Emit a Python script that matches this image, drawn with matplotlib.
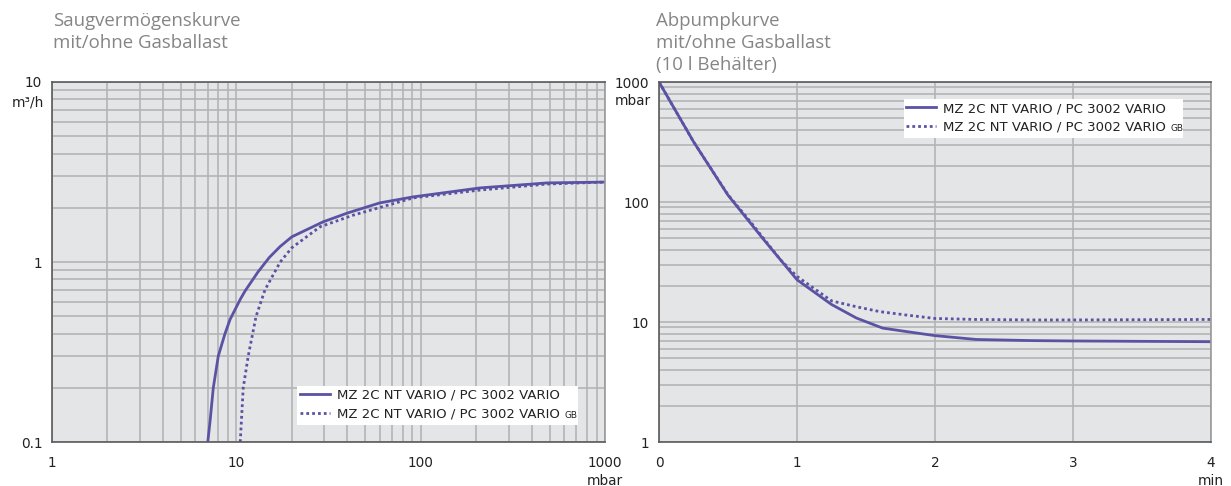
import matplotlib
matplotlib.use("Agg")
import matplotlib.pyplot as plt
from matplotlib.patches import Rectangle
from matplotlib.ticker import FixedLocator, NullFormatter, LogLocator

# Pumping speed vs. pressure (mbar -> m³/h)
speed_p_solid = [7.0, 7.2, 7.5, 7.98, 8.68, 9.25, 10.5, 11.15, 13.1, 15.1, 17.3, 20.0, 29.5, 40, 60, 91, 210, 485, 1000]
speed_q_solid = [0.1, 0.13, 0.2, 0.3, 0.40, 0.48, 0.62, 0.69, 0.88, 1.06, 1.22, 1.38, 1.67, 1.87, 2.13, 2.30, 2.58, 2.75, 2.78]
speed_p_gb = [10.5, 10.9, 11.6, 12.8, 14.3, 17.3, 20.0, 28.5, 43, 91, 210, 485, 1000]
speed_q_gb = [0.1, 0.2, 0.3, 0.5, 0.7, 1.0, 1.2, 1.57, 1.82, 2.27, 2.51, 2.71, 2.78]

# Pump-down of a 10 l vessel (min -> mbar)
pd_t_solid = [0, 0.25, 0.5, 0.75, 1.0, 1.25, 1.43, 1.62, 1.8, 2.0, 2.3, 2.7, 3.0, 3.5, 4.0]
pd_p_solid = [1000, 318, 114, 50, 22.5, 14.0, 10.8, 8.9, 8.3, 7.7, 7.15, 7.0, 6.95, 6.9, 6.85]
pd_t_gb = [0, 0.25, 0.5, 0.66, 0.88, 1.0, 1.25, 1.43, 1.6, 1.8, 2.0, 2.3, 2.7, 3.0, 3.5, 4.0]
pd_p_gb = [1000, 318, 115, 69, 33, 24, 15, 13.4, 12.2, 11.4, 10.7, 10.5, 10.4, 10.4, 10.45, 10.5]

label_main = "MZ 2C NT VARIO / PC 3002 VARIO"
label_gb_suffix = "GB"

left_xticks = [1, 10, 100, 1000]
left_xticklabels = ["1", "10", "100", "1000\nmbar"]
left_yticks = [0.1, 1, 10]
left_yticklabels = ["0.1", "1", "10"]
right_xticks = [0, 1, 2, 3, 4]
right_xticklabels = ["0", "1", "2", "3", "4\nmin"]
right_yticks = [1, 10, 100, 1000]
right_yticklabels = ["1", "10", "100", "1000"]

LINE = "#5a53a4"
BG = "#e4e5e7"
GRID = "#b3b4b6"
SPINE = "#5a5a5a"
TXT = "#222222"
TITLE = "#858585"

W, H = 1231, 486
plt.rcParams['font.family'] = ['DejaVu Sans']

fig = plt.figure(figsize=(W / 100, H / 100), dpi=100)
ax1 = fig.add_axes([52 / W, 1 - 442 / H, 553 / W, 360 / H])
ax2 = fig.add_axes([659 / W, 1 - 442 / H, 552 / W, 360 / H])


def style(ax):
    ax.set_facecolor(BG)
    for s in ax.spines.values():
        s.set_color(SPINE)
        s.set_linewidth(1.2)
    ax.spines['right'].set_color("#9a9a9a")
    ax.tick_params(which='both', length=0, labelsize=9.8, colors=TXT)
    ax.tick_params(axis='x', pad=10)
    ax.tick_params(axis='y', pad=7)
    ax.set_axisbelow(True)


# ---- left: pumping speed ----
style(ax1)
ax1.set_xscale('log')
ax1.set_yscale('log')
ax1.set_xlim(1, 1000)
ax1.set_ylim(0.1, 10)
ax1.xaxis.set_major_locator(FixedLocator(left_xticks))
ax1.set_xticklabels(left_xticklabels, va='top', linespacing=1.4)
ax1.yaxis.set_major_locator(FixedLocator(left_yticks))
ax1.set_yticklabels(left_yticklabels)
ax1.xaxis.set_minor_locator(LogLocator(base=10, subs=range(2, 10)))
ax1.yaxis.set_minor_locator(LogLocator(base=10, subs=range(2, 10)))
ax1.xaxis.set_minor_formatter(NullFormatter())
ax1.yaxis.set_minor_formatter(NullFormatter())
ax1.grid(True, which='both', color=GRID, linewidth=1.2)

ax1.plot(speed_p_solid, speed_q_solid, color=LINE, lw=2.0, label=label_main)
ax1.plot(speed_p_gb, speed_q_gb, color=LINE, lw=2.0, ls=(0, (1, 1.1)), label=label_main)
ax1.annotate("m³/h", xy=(0, 1), xycoords='axes fraction', xytext=(-8, -21),
             textcoords='offset pixels', ha='right', va='center', fontsize=9.8, color=TXT)

# ---- right: pump-down curve ----
style(ax2)
ax2.set_yscale('log')
ax2.set_xlim(0, 4)
ax2.set_ylim(1, 1000)
ax2.xaxis.set_major_locator(FixedLocator(right_xticks))
ax2.set_xticklabels(right_xticklabels, va='top', linespacing=1.4)
ax2.yaxis.set_major_locator(FixedLocator(right_yticks))
ax2.set_yticklabels(right_yticklabels)
ax2.yaxis.set_minor_locator(LogLocator(base=10, subs=range(2, 10)))
ax2.yaxis.set_minor_formatter(NullFormatter())
ax2.grid(True, which='both', axis='y', color=GRID, linewidth=1.2)
ax2.grid(True, which='major', axis='x', color=GRID, linewidth=1.2)

ax2.plot(pd_t_solid, pd_p_solid, color=LINE, lw=2.0, label=label_main)
ax2.plot(pd_t_gb, pd_p_gb, color=LINE, lw=2.0, ls=(0, (1, 1.1)), label=label_main)
ax2.annotate("mbar", xy=(0, 1), xycoords='axes fraction', xytext=(-8, -19),
             textcoords='offset pixels', ha='right', va='center', fontsize=9.8, color=TXT)


def add_legend(ax, box, start):
    """box = (left, top, right, bottom) in figure pixels; start = (x, y) of first entry."""
    l, t, r, b = box
    ax.add_patch(Rectangle((l / W, 1 - b / H), (r - l) / W, (b - t) / H,
                           transform=fig.transFigure, facecolor='white',
                           edgecolor='none', zorder=4, clip_on=False))
    leg = ax.legend(loc='upper left', bbox_to_anchor=(start[0] / W, 1 - start[1] / H),
                    bbox_transform=fig.transFigure, frameon=False, fontsize=9.5,
                    handlelength=2.27, handletextpad=0.53, labelspacing=0.45,
                    borderpad=0, borderaxespad=0)
    texts = leg.get_texts()
    for txt in texts:
        txt.set_color(TXT)
    ax.annotate(label_gb_suffix, xy=(1, 0.2), xycoords=texts[1], xytext=(3.6, 0),
                textcoords='offset points', fontsize=6.4, color=TXT, va='baseline',
                zorder=10)
    return leg


add_legend(ax1, (297, 386, 578, 425), (300, 389))
add_legend(ax2, (904, 99, 1183, 138), (906, 102))

# ---- titles ----
fig.text(53 / W, 1 - 12 / H, "Saugvermögenskurve\nmit/ohne Gasballast",
         ha='left', va='top', fontsize=13.4, color=TITLE, family='Open Sans',
         linespacing=1.27)
fig.text(656 / W, 1 - 12 / H, "Abpumpkurve\nmit/ohne Gasballast\n(10 l Behälter)",
         ha='left', va='top', fontsize=13.4, color=TITLE, family='Open Sans',
         linespacing=1.27)

fig.savefig("out.png", dpi=100)
